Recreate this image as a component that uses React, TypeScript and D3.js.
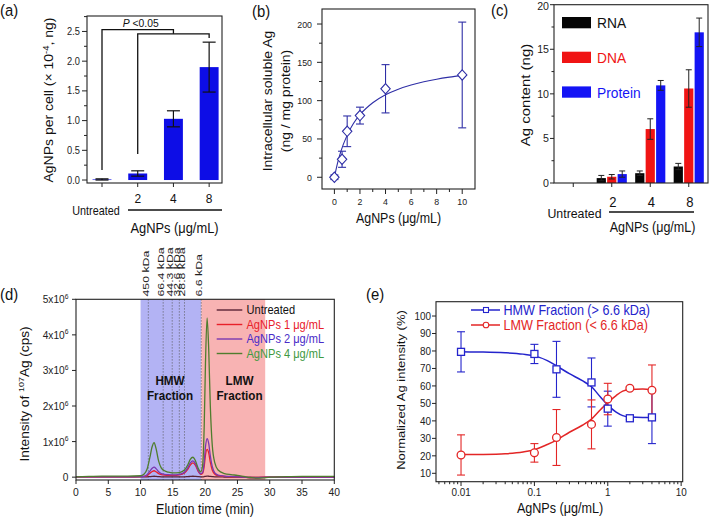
import React from "react";
import * as d3 from "d3";

const FONT = "'Liberation Sans', Arial, Helvetica, sans-serif";
const AX = "#222";
const SX = 0.9;

// ---------- Panel (a) ----------
const aCategories = ["Untreated", "2", "4", "8"];
const aValues = [0.01, 0.11, 1.03, 1.9];
const aErrors = [0.01, 0.045, 0.135, 0.42];
const aYTicks = [0, 0.5, 1.0, 1.5, 2.0, 2.5];
const aBrackets = [
  { from: 0, to: 2, startY: 0.17, topY: 2.53, endY: 2.46 },
  { from: 1, to: 3, startY: 0.44, topY: 2.46, endY: 2.39 },
];

// ---------- Panel (b) ----------
const bConc = [0, 0.6, 1, 2, 4, 10];
const bValues = [0, 23.5, 60, 80.5, 115.5, 133.5];
const bErrors = [3, 10.5, 20, 11, 31.5, 69];
const bFitX = [0, 0.25, 0.5, 1, 1.5, 2, 3, 4, 5, 6, 7, 8, 9, 10];
const bFitY = [0, 18.7, 33.4, 55, 70.4, 81.7, 97.3, 107.7, 115, 120.4, 124.6, 128, 130.7, 133];
const bXTicks = [0, 2, 4, 6, 8, 10];
const bYTicks = [0, 50, 100, 150, 200];

// ---------- Panel (c) ----------
const cCategories = ["Untreated", "2", "4", "8"];
const cSeries = ["RNA", "DNA", "Protein"];
const cRNA = [0, 0.55, 1.1, 1.85];
const cRNAErr = [0, 0.3, 0.25, 0.35];
const cDNA = [0, 0.7, 6.05, 10.6];
const cDNAErr = [0, 0.25, 1.15, 2.1];
const cProtein = [0, 1.0, 10.95, 16.9];
const cProteinErr = [0, 0.35, 0.55, 1.6];
const cYTicks = [0, 5, 10, 15, 20];

// ---------- Panel (d) ----------
const dTime = [0, 2, 4, 6, 8, 10, 10.5, 11, 11.4, 11.8, 12.1, 12.4, 12.8, 13.2, 13.7, 14.3, 15, 16, 16.8, 17.3, 17.7, 18.1, 18.5, 18.9, 19.3, 19.6, 19.85, 20.05, 20.3, 20.55, 20.8, 21.1, 21.5, 22, 23, 24, 25, 26, 27, 28, 29, 30, 32, 35, 38, 40];
const dUntreated = [0.01, 0.01, 0.01, 0.01, 0.01, 0.01, 0.01, 0.01, 0.015, 0.02, 0.025, 0.02, 0.015, 0.01, 0.01, 0.01, 0.01, 0.01, 0.01, 0.015, 0.02, 0.025, 0.02, 0.015, 0.01, 0.01, 0.015, 0.025, 0.03, 0.025, 0.02, 0.015, 0.01, 0.01, 0.005, 0.0, 0.0, -0.005, -0.01, -0.01, -0.005, 0.0, 0.0, 0.005, 0.005, 0.005];
const dAg1 = [0.01, 0.01, 0.01, 0.01, 0.01, 0.015, 0.02, 0.04, 0.1, 0.16, 0.18, 0.15, 0.1, 0.07, 0.055, 0.05, 0.05, 0.065, 0.12, 0.22, 0.34, 0.4, 0.33, 0.17, 0.08, 0.1, 0.3, 0.62, 0.78, 0.68, 0.42, 0.2, 0.08, 0.04, 0.02, 0.01, 0.01, 0.0, -0.01, -0.01, 0.0, 0.0, 0.0, 0.005, 0.005, 0.005];
const dAg2 = [0.01, 0.01, 0.01, 0.01, 0.01, 0.015, 0.025, 0.07, 0.16, 0.25, 0.28, 0.24, 0.15, 0.1, 0.08, 0.07, 0.065, 0.08, 0.14, 0.26, 0.4, 0.46, 0.38, 0.2, 0.1, 0.13, 0.42, 0.85, 1.08, 0.95, 0.6, 0.3, 0.12, 0.06, 0.03, 0.02, 0.01, 0.0, -0.01, -0.015, -0.005, 0.0, 0.0, 0.005, 0.005, 0.005];
const dAg4 = [0.01, 0.02, 0.03, 0.03, 0.03, 0.04, 0.08, 0.22, 0.52, 0.86, 0.97, 0.8, 0.45, 0.26, 0.18, 0.14, 0.12, 0.13, 0.2, 0.34, 0.5, 0.56, 0.46, 0.26, 0.15, 0.32, 1.4, 3.2, 4.48, 3.6, 2.0, 0.9, 0.4, 0.2, 0.1, 0.07, 0.05, 0.02, -0.01, -0.03, -0.02, 0.0, 0.01, 0.02, 0.02, 0.02];
const dSeriesNames = ["Untreated", "AgNPs 1 \u03bcg/mL", "AgNPs 2 \u03bcg/mL", "AgNPs 4 \u03bcg/mL"];
const dLineColors = ["#5a2335", "#e8202a", "#7a38b0", "#4f7d2e"];
const dTextColors = ["#111111", "#e8202a", "#4a2cc8", "#3f9a3f"];
const dMarkerTimes = [11.2, 13.5, 14.9, 16.0, 16.8, 19.4];
const dMarkerLabels = ["450 kDa", "66.4 kDa", "44.3 kDa", "32.6 kDa", "28.8 kDa", "6.6 kDa"];
const dHMWRange = [10, 19.4];
const dLMWRange = [19.4, 29.3];
const dXTicks = [0, 5, 10, 15, 20, 25, 30, 35, 40];
const dYTicks = [0, 1, 2, 3, 4, 5];

// ---------- Panel (e) ----------
const eConc = [0.01, 0.1, 0.2, 0.6, 1, 2, 4];
const eHMW = [79.5, 78.3, 69.5, 62, 47, 41.5, 42];
const eHMWErr = [11.5, 5.5, 16, 14, 10, 0.8, 15];
const eLMW = [20.5, 21.7, 30.5, 38, 52.5, 58.7, 57.5];
const eLMWErr = [11.5, 5.3, 16, 14, 9, 0.8, 14.5];
const eFitX = [0.01, 0.02, 0.04, 0.07, 0.1, 0.15, 0.2, 0.3, 0.45, 0.6, 0.8, 1.0, 1.3, 1.6, 2, 3, 4];
const eHMWFit = [79.5, 79.4, 79, 78.2, 77.2, 74.5, 71.5, 67, 63, 59.5, 53.5, 49, 45, 43, 42.2, 42, 42];
const eLMWFit = [20.7, 20.8, 21.2, 22.2, 23.5, 26.5, 29, 33.5, 37.5, 41, 46.5, 50.5, 54.5, 57, 58, 58.2, 57.5];
const eXTicks = [0.01, 0.1, 1, 10];
const eYTicks = [10, 20, 30, 40, 50, 60, 70, 80, 90, 100];

function HT({ x, y, size, anchor = "start", fill = "#111", weight, children }: any) {
  return (
    <text transform={`translate(${x},${y}) scale(${SX},1)`} fontSize={size} textAnchor={anchor} fill={fill} fontWeight={weight}>
      {children}
    </text>
  );
}

function VT({ x, y, size, anchor = "middle", fill = "#111", sy = SX, children }: any) {
  return (
    <text transform={`translate(${x},${y}) rotate(-90) scale(1,${sy})`} fontSize={size} textAnchor={anchor} fill={fill}>
      {children}
    </text>
  );
}

function ErrorBar({ x, y1, y2, w, color, sw = 1 }: any) {
  return (
    <g stroke={color} strokeWidth={sw}>
      <line x1={x} x2={x} y1={y1} y2={y2} />
      <line x1={x - w / 2} x2={x + w / 2} y1={y1} y2={y1} />
      <line x1={x - w / 2} x2={x + w / 2} y1={y2} y2={y2} />
    </g>
  );
}

function Frame({ x0, x1, y0, y1 }: any) {
  return <rect x={x0} y={y0} width={x1 - x0} height={y1 - y0} fill="none" stroke={AX} strokeWidth={1.1} />;
}

function PanelA() {
  const x = d3.scaleLinear().domain([0.58, 4.36]).range([87, 222]);
  const y = d3.scaleLinear().domain([-0.05, 2.76]).range([183, 16]);
  const bw = x(1.53) - x(1);
  const minor = d3.range(0.25, 2.76, 0.5);
  const fmt = d3.format(".1f");
  return (
    <g>
      {aValues.map((v, i) => (
        <rect key={i} x={x(i + 1) - bw / 2} y={y(v)} width={bw} height={y(0) - y(v)} fill="#0d0de6" />
      ))}
      {aValues.map((v, i) => (
        <ErrorBar key={i} x={x(i + 1)} y1={y(v + aErrors[i])} y2={y(v - aErrors[i])} w={13} color="#111" sw={1.2} />
      ))}
      {aBrackets.map((b, i) => (
        <path key={i} d={`M${x(b.from + 1)},${y(b.startY)}V${y(b.topY)}H${x(b.to + 1)}V${y(b.endY)}`} fill="none" stroke="#111" strokeWidth={1.3} />
      ))}
      <HT x={x(2) + 3} y={y(2.53) - 2.5} size={11.5} anchor="middle">
        <tspan fontStyle="italic">P</tspan> &lt;0.05
      </HT>
      <Frame x0={87} x1={222} y0={16} y1={183} />
      {aYTicks.map((t) => (
        <g key={t}>
          <line x1={82} x2={87} y1={y(t)} y2={y(t)} stroke={AX} />
          <HT x={80} y={y(t) + 3.6} size={10.3} anchor="end" fill="#222">{fmt(t)}</HT>
        </g>
      ))}
      {minor.map((t) => (
        <line key={t} x1={84} x2={87} y1={y(t)} y2={y(t)} stroke={AX} />
      ))}
      {aCategories.map((c, i) => (
        <line key={c} x1={x(i + 1)} x2={x(i + 1)} y1={183} y2={187} stroke={AX} />
      ))}
      {aCategories.slice(1).map((c, i) => (
        <HT key={c} x={x(i + 2)} y={203} size={13.3} anchor="middle">{c}</HT>
      ))}
      <HT x={96} y={215} size={12} anchor="middle">{aCategories[0]}</HT>
      <line x1={128} x2={222} y1={210} y2={210} stroke="#111" strokeWidth={1.3} />
      <HT x={174.5} y={232.5} size={14.3} anchor="middle">AgNPs (μg/mL)</HT>
      <VT x={53} y={100} size={14}>
        AgNPs per cell (× 10<tspan dy={-5} fontSize={9.5}>-4</tspan><tspan dy={5}>, ng)</tspan>
      </VT>
      <HT x={0} y={16} size={16.5}>(a)</HT>
    </g>
  );
}

function Diamond({ cx, cy, color }: any) {
  return <path d={`M${cx},${cy - 5.2}L${cx + 4.7},${cy}L${cx},${cy + 5.2}L${cx - 4.7},${cy}Z`} fill="#fff" stroke={color} strokeWidth={1.1} />;
}

function PanelB() {
  const x = d3.scaleLinear().domain([-0.97, 11.0]).range([322, 475]);
  const y = d3.scaleLinear().domain([-15.3, 219.6]).range([189, 9]);
  const col = "#2e2ea6";
  const line = d3.line<number>().x((d, i) => x(bFitX[i])).y((d) => y(d)).curve(d3.curveMonotoneX);
  return (
    <g>
      <Frame x0={322} x1={475} y0={9} y1={189} />
      <path d={line(bFitY) || ""} fill="none" stroke={col} strokeWidth={1.1} />
      {bValues.map((v, i) => (
        <ErrorBar key={i} x={x(bConc[i])} y1={y(v + bErrors[i])} y2={y(v - bErrors[i])} w={8} color={col} sw={1.1} />
      ))}
      {bValues.map((v, i) => (
        <Diamond key={i} cx={x(bConc[i])} cy={y(v)} color={col} />
      ))}
      {bYTicks.map((t) => (
        <g key={t}>
          <line x1={317} x2={322} y1={y(t)} y2={y(t)} stroke={AX} />
          <HT x={312} y={y(t) + 3.5} size={9.8} anchor="end" fill="#222">{t}</HT>
        </g>
      ))}
      {d3.range(25, 200, 50).map((t) => (
        <line key={t} x1={319} x2={322} y1={y(t)} y2={y(t)} stroke={AX} />
      ))}
      {bXTicks.map((t) => (
        <g key={t}>
          <line x1={x(t)} x2={x(t)} y1={189} y2={194} stroke={AX} />
          <HT x={x(t)} y={205} size={9.8} anchor="middle" fill="#222">{t}</HT>
        </g>
      ))}
      {d3.range(1, 11, 2).map((t) => (
        <line key={t} x1={x(t)} x2={x(t)} y1={189} y2={192} stroke={AX} />
      ))}
      <HT x={398.5} y={222.5} size={13.8} anchor="middle">AgNPs (μg/mL)</HT>
      <VT x={272} y={101} size={14}>Intracellular soluble Ag</VT>
      <VT x={289.5} y={101} size={14}>(ng / mg protein)</VT>
      <HT x={252} y={17} size={16.5}>(b)</HT>
    </g>
  );
}

function PanelC() {
  const x = d3.scaleBand().domain(cCategories).range([554, 708]);
  const sub = d3.scaleBand().domain(cSeries).range([0, x.bandwidth()]).paddingInner(0.12).paddingOuter(0.4);
  const y = d3.scaleLinear().domain([0, 20]).range([183, 4.7]);
  const vals = [cRNA, cDNA, cProtein];
  const errs = [cRNAErr, cDNAErr, cProteinErr];
  const colors = ["#050505", "#f01414", "#1414f5"];
  const textColors = ["#111", "#f01414", "#1414f5"];
  return (
    <g>
      {cSeries.map((s, si) =>
        cCategories.map((c, ci) => {
          const v = vals[si][ci];
          if (v <= 0) return null;
          const bx = (x(c) as number) + (sub(s) as number);
          return <rect key={s + c} x={bx} y={y(v)} width={sub.bandwidth()} height={y(0) - y(v)} fill={colors[si]} />;
        })
      )}
      {cSeries.map((s, si) =>
        cCategories.map((c, ci) => {
          const v = vals[si][ci];
          if (v <= 0) return null;
          const cx = (x(c) as number) + (sub(s) as number) + sub.bandwidth() / 2;
          return <ErrorBar key={s + c} x={cx} y1={y(v + errs[si][ci])} y2={y(v - errs[si][ci])} w={6} color="#222" sw={1} />;
        })
      )}
      <Frame x0={554} x1={708} y0={4.7} y1={183} />
      {cYTicks.map((t) => (
        <g key={t}>
          <line x1={550} x2={554} y1={y(t)} y2={y(t)} stroke={AX} />
          <HT x={549} y={Math.max(y(t) + 4, 10)} size={11.8} anchor="end" fill="#222">{t}</HT>
        </g>
      ))}
      {d3.range(2.5, 20, 5).map((t) => (
        <line key={t} x1={551.5} x2={554} y1={y(t)} y2={y(t)} stroke={AX} />
      ))}
      {cCategories.map((c) => (
        <line key={c} x1={(x(c) as number) + x.bandwidth() / 2} x2={(x(c) as number) + x.bandwidth() / 2} y1={183} y2={187} stroke={AX} />
      ))}
      {cSeries.map((s, si) => (
        <g key={s}>
          <rect x={562} y={17 + si * 34.7} width={29} height={11.3} fill={colors[si]} />
          <HT x={597} y={28.3 + si * 34.7} size={15.3} fill={textColors[si]}>{s}</HT>
        </g>
      ))}
      {cCategories.slice(1).map((c) => (
        <HT key={c} x={(x(c) as number) + x.bandwidth() / 2 + 1} y={206.7} size={14.5} anchor="middle">{c}</HT>
      ))}
      <HT x={574.5} y={218.3} size={13.7} anchor="middle">{cCategories[0]}</HT>
      <line x1={609} x2={694} y1={212} y2={212} stroke="#111" strokeWidth={1.3} />
      <HT x={652.5} y={232.3} size={13.9} anchor="middle">AgNPs (μg/mL)</HT>
      <VT x={530} y={95} size={15}>Ag content (ng)</VT>
      <HT x={491} y={16} size={16.5}>(c)</HT>
    </g>
  );
}

function PanelD() {
  const x = d3.scaleLinear().domain([0, 40]).range([76, 334.3]);
  const y = d3.scaleLinear().domain([-0.08, 5]).range([480, 299.3]);
  const series = [dUntreated, dAg1, dAg2, dAg4];
  const line = d3.line<number>().x((d, i) => x(dTime[i])).y((d) => y(d)).curve(d3.curveMonotoneX);
  return (
    <g>
      <rect x={x(dHMWRange[0])} y={299.3} width={x(dHMWRange[1]) - x(dHMWRange[0])} height={480 - 299.3} fill="#b3b3f4" />
      <rect x={x(dLMWRange[0])} y={299.3} width={x(dLMWRange[1]) - x(dLMWRange[0])} height={480 - 299.3} fill="#f8b3b3" />
      {dMarkerTimes.map((t, i) => (
        <g key={i}>
          <line x1={x(t)} x2={x(t)} y1={299.3} y2={480} stroke="#555" strokeWidth={0.8} strokeDasharray="1.2,1.8" />
          <VT x={x(t) + 0.8} y={296.5} size={12.3} anchor="start" fill="#222" sy={0.72}>{dMarkerLabels[i]}</VT>
        </g>
      ))}
      {series.map((s, i) => (
        <path key={i} d={line(s) || ""} fill="none" stroke={dLineColors[i]} strokeWidth={1.3} />
      ))}
      <HT x={170} y={385} size={13} weight="bold" anchor="middle">HMW</HT>
      <HT x={170} y={399.5} size={13} weight="bold" anchor="middle">Fraction</HT>
      <HT x={239.5} y={385} size={13} weight="bold" anchor="middle">LMW</HT>
      <HT x={239.5} y={399.5} size={13} weight="bold" anchor="middle">Fraction</HT>
      {dSeriesNames.map((n, i) => (
        <g key={n}>
          <line x1={216.7} x2={242.3} y1={310 + i * 14.5} y2={310 + i * 14.5} stroke={dLineColors[i]} strokeWidth={1.4} />
          <HT x={246.5} y={314.2 + i * 14.5} size={12.3} fill={dTextColors[i]}>{n}</HT>
        </g>
      ))}
      <Frame x0={76} x1={334.3} y0={299.3} y1={480} />
      {dYTicks.map((t) => (
        <g key={t}>
          <line x1={72} x2={76} y1={y(t)} y2={y(t)} stroke={AX} />
          {t === 0 ? (
            <HT x={68.5} y={y(t) + 4} size={11.3} anchor="end" fill="#222">0</HT>
          ) : (
            <HT x={68.5} y={y(t) + 4} size={11.3} anchor="end" fill="#222">
              {t}x10<tspan dy={-4.5} fontSize={7.5}>6</tspan>
            </HT>
          )}
        </g>
      ))}
      {dXTicks.map((t) => (
        <g key={t}>
          <line x1={x(t)} x2={x(t)} y1={480} y2={484} stroke={AX} />
          <HT x={x(t)} y={496} size={11.5} anchor="middle" fill="#222">{t}</HT>
        </g>
      ))}
      <HT x={205} y={514} size={14} anchor="middle">Elution time (min)</HT>
      <VT x={28.5} y={394} size={13.6}>
        Intensity of <tspan dy={-5} fontSize={9}>107</tspan><tspan dy={5}>Ag (cps)</tspan>
      </VT>
      <HT x={0} y={300} size={16.5}>(d)</HT>
    </g>
  );
}

function PanelE() {
  const x = d3.scaleLog().domain([0.00456, 10.5]).range([436, 682.7]);
  const y = d3.scaleLinear().domain([5.2, 108.2]).range([481.7, 301.7]);
  const blue = "#2424cc";
  const red = "#e32626";
  const lineFit = (arr: number[]) =>
    d3.line<number>().x((d, i) => x(eFitX[i])).y((d) => y(d)).curve(d3.curveMonotoneX)(arr) || "";
  const minorTicks: number[] = [];
  [0.001, 0.01, 0.1, 1].forEach((dec) => {
    for (let k = 2; k <= 9; k++) {
      const v = dec * k;
      if (v >= 0.00456 && v <= 10.5) minorTicks.push(v);
    }
  });
  return (
    <g>
      <Frame x0={436} x1={682.7} y0={301.7} y1={481.7} />
      <path d={lineFit(eHMWFit)} fill="none" stroke={blue} strokeWidth={1.5} />
      <path d={lineFit(eLMWFit)} fill="none" stroke={red} strokeWidth={1.5} />
      {eConc.map((c, i) => (
        <ErrorBar key={"h" + i} x={x(c)} y1={y(eHMW[i] + eHMWErr[i])} y2={y(eHMW[i] - eHMWErr[i])} w={8} color={blue} sw={1.1} />
      ))}
      {eConc.map((c, i) => (
        <ErrorBar key={"l" + i} x={x(c)} y1={y(eLMW[i] + eLMWErr[i])} y2={y(eLMW[i] - eLMWErr[i])} w={8} color={red} sw={1.1} />
      ))}
      {eConc.map((c, i) => (
        <rect key={"hs" + i} x={x(c) - 3.5} y={y(eHMW[i]) - 3.5} width={7} height={7} fill="#fff" stroke={blue} strokeWidth={1.3} />
      ))}
      {eConc.map((c, i) => (
        <circle key={"lc" + i} cx={x(c)} cy={y(eLMW[i])} r={3.9} fill="#fff" stroke={red} strokeWidth={1.3} />
      ))}
      <line x1={471} x2={500} y1={310} y2={310} stroke={blue} strokeWidth={1.5} />
      <rect x={483.5} y={307.5} width={5} height={5} fill="#fff" stroke={blue} strokeWidth={1.1} />
      <HT x={503.5} y={314.5} size={14} fill={blue}>HMW Fraction (&gt; 6.6 kDa)</HT>
      <line x1={471} x2={500} y1={325} y2={325} stroke={red} strokeWidth={1.5} />
      <circle cx={486} cy={325} r={2.8} fill="#fff" stroke={red} strokeWidth={1.1} />
      <HT x={503.5} y={329.5} size={14} fill={red}>LMW Fraction (&lt; 6.6 kDa)</HT>
      {eYTicks.map((t) => (
        <g key={t}>
          <line x1={432} x2={436} y1={y(t)} y2={y(t)} stroke={AX} />
          <HT x={431} y={y(t) + 3.8} size={11} anchor="end" fill="#222">{t}</HT>
        </g>
      ))}
      {eXTicks.map((t) => (
        <g key={t}>
          <line x1={x(t)} x2={x(t)} y1={481.7} y2={486} stroke={AX} />
          <HT x={x(t)} y={496} size={11} anchor="middle" fill="#222">{String(t)}</HT>
        </g>
      ))}
      {minorTicks.map((t) => (
        <line key={t} x1={x(t)} x2={x(t)} y1={481.7} y2={484.2} stroke={AX} />
      ))}
      <HT x={560} y={513} size={14} anchor="middle">AgNPs (μg/mL)</HT>
      <VT x={405} y={390} size={13}>Normalized Ag intensity (%)</VT>
      <HT x={366} y={300} size={16.5}>(e)</HT>
    </g>
  );
}

export default function App() {
  return (
    <svg
      width={710}
      height={518}
      viewBox="0 0 710 518"
      style={{ position: "absolute", left: 0, top: 0, background: "#fff", fontFamily: FONT }}
    >
      <rect x={0} y={0} width={710} height={518} fill="#fff" />
      <PanelA />
      <PanelB />
      <PanelC />
      <PanelD />
      <PanelE />
    </svg>
  );
}
